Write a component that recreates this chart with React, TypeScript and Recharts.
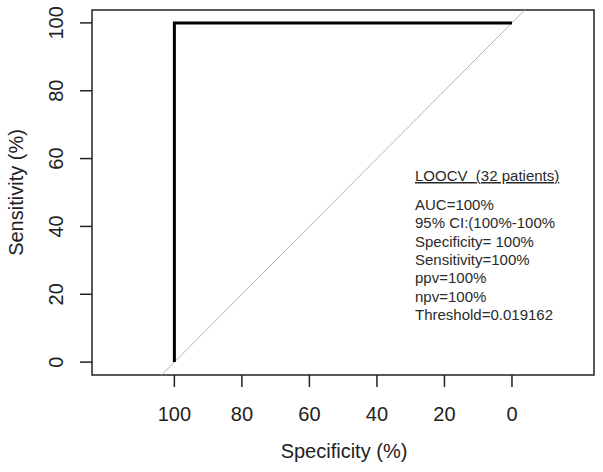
import React from "react";
import {
  LineChart,
  Line,
  XAxis,
  YAxis,
  ReferenceLine,
  ReferenceArea,
  Customized,
} from "recharts";

// ROC curve (specificity reversed on x)
const specificity = [100, 100, 0];
const sensitivity = [0, 100, 100];

const xTicks = [100, 80, 60, 40, 20, 0];
const yTicks = [0, 20, 40, 60, 80, 100];

const xDomain: [number, number] = [-24.3, 124.4];
const yDomain: [number, number] = [-3.8, 103.8];

const diagStart = { x: 103.8, y: -3.8 };
const diagEnd = { x: -3.8, y: 103.8 };

const annotationTitle = "LOOCV  (32 patients)";
const annotationLines = [
  "AUC=100%",
  "95% CI:(100%-100%",
  "Specificity= 100%",
  "Sensitivity=100%",
  "ppv=100%",
  "npv=100%",
  "Threshold=0.019162",
];

const xTitle = "Specificity (%)";
const yTitle = "Sensitivity (%)";

const rocData = specificity.map((s, i) => ({ spec: s, sens: sensitivity[i] }));

const AXIS_FONT = "'Liberation Sans', Arial, sans-serif";
const TEXT_COLOR = "#222";

const XTick = (props: any) => {
  const { x, y, payload } = props;
  return (
    <text
      x={x}
      y={y + 32}
      textAnchor="middle"
      fontFamily={AXIS_FONT}
      fontSize={20}
      fill={TEXT_COLOR}
    >
      {payload.value}
    </text>
  );
};

const YTick = (props: any) => {
  const { y, payload } = props;
  const bx = 63;
  return (
    <text
      x={bx}
      y={y}
      transform={`rotate(-90, ${bx}, ${y})`}
      textAnchor="middle"
      fontFamily={AXIS_FONT}
      fontSize={20}
      fill={TEXT_COLOR}
    >
      {payload.value}
    </text>
  );
};

const Texts = () => (
  <g>
    <text
      x={344}
      y={458}
      textAnchor="middle"
      fontFamily={AXIS_FONT}
      fontSize={20}
      fill={TEXT_COLOR}
    >
      {xTitle}
    </text>
    <text
      x={23}
      y={192.5}
      transform="rotate(-90, 23, 192.5)"
      textAnchor="middle"
      fontFamily={AXIS_FONT}
      fontSize={20}
      fill={TEXT_COLOR}
    >
      {yTitle}
    </text>
    <text
      x={415}
      y={181}
      fontFamily={AXIS_FONT}
      fontSize={15}
      fill="#2a2a2a"
      textDecoration="underline"
      style={{ whiteSpace: "pre", textDecoration: "underline" }}
    >
      {annotationTitle}
    </text>
    {annotationLines.map((t, i) => (
      <text
        key={t}
        x={415}
        y={210 + i * 18.3}
        fontFamily={AXIS_FONT}
        fontSize={15}
        fill="#2a2a2a"
      >
        {t}
      </text>
    ))}
  </g>
);

export default function App() {
  return (
    <div style={{ position: "absolute", left: 0, top: 0, background: "#fff" }}>
      <LineChart
        width={603}
        height={472}
        data={rocData}
        margin={{ top: 10, right: 9, left: 0, bottom: 0 }}
      >
        <XAxis
          dataKey="spec"
          type="number"
          domain={xDomain}
          allowDataOverflow
          reversed
          ticks={xTicks}
          tickSize={12}
          height={97}
          axisLine={false}
          tickLine={{ stroke: "#222", strokeWidth: 1.5 }}
          tick={<XTick />}
          interval={0}
        />
        <YAxis
          dataKey="sens"
          type="number"
          domain={yDomain}
          allowDataOverflow
          ticks={yTicks}
          tickSize={12}
          width={92}
          axisLine={false}
          tickLine={{ stroke: "#222", strokeWidth: 1.5 }}
          tick={<YTick />}
          interval={0}
        />
        <ReferenceLine
          segment={[diagStart, diagEnd]}
          stroke="#b5b5b5"
          strokeWidth={1}
          ifOverflow="visible"
        />
        <ReferenceArea
          x1={xDomain[0]}
          x2={xDomain[1]}
          y1={yDomain[0]}
          y2={yDomain[1]}
          fill="none"
          fillOpacity={0}
          stroke="#222"
          strokeWidth={1.5}
          ifOverflow="visible"
        />
        <Line
          dataKey="sens"
          type="linear"
          stroke="#000"
          strokeWidth={3}
          dot={false}
          activeDot={false}
          isAnimationActive={false}
        />
        <Customized component={Texts} />
      </LineChart>
    </div>
  );
}
